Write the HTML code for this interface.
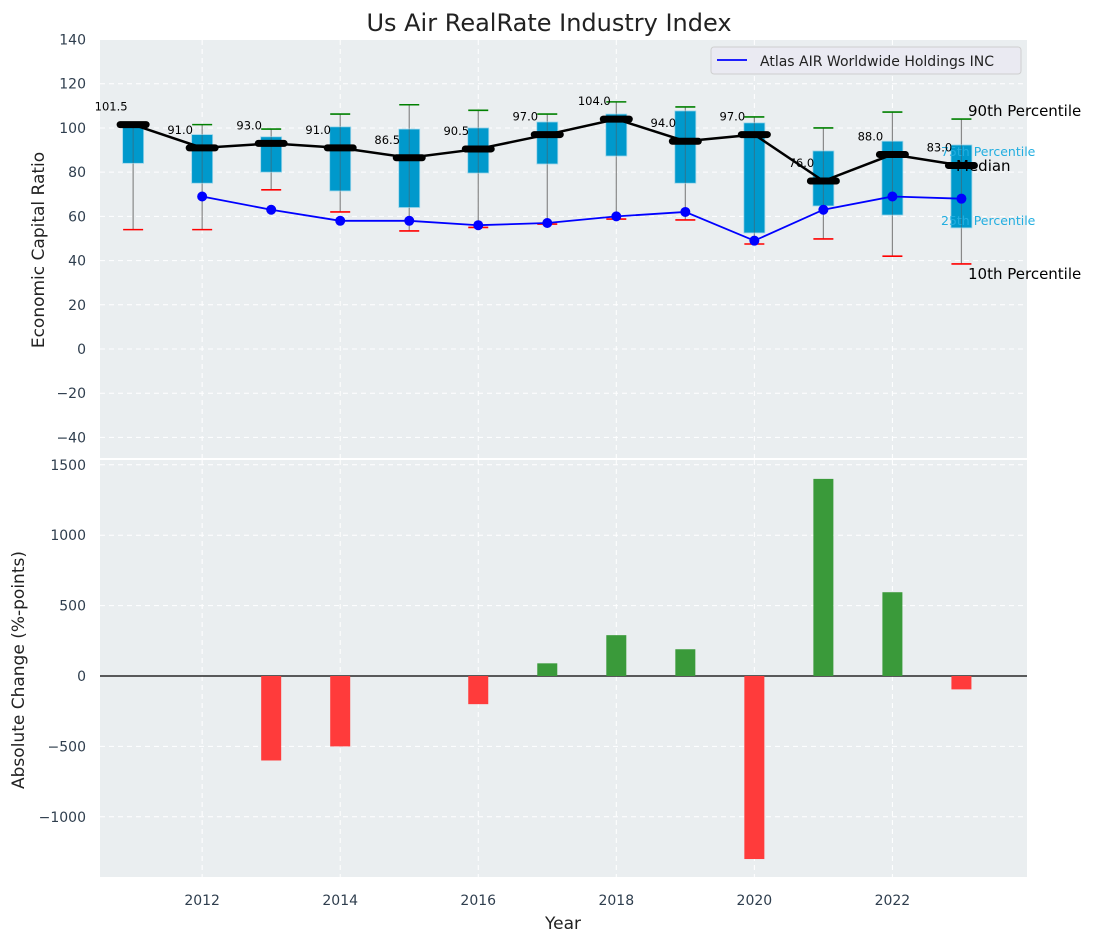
<!DOCTYPE html>
<html><head><meta charset="utf-8"><style>
body{margin:0;background:#fff;}
svg{display:block;font-family:"DejaVu Sans","Liberation Sans",sans-serif;}
</style></head><body>
<svg id="c" width="1103" height="942" xmlns="http://www.w3.org/2000/svg"></svg>
<script>
const years=[2011,2012,2013,2014,2015,2016,2017,2018,2019,2020,2021,2022,2023];
const medians=[101.5,91.0,93.0,91.0,86.5,90.5,97.0,104.0,94.0,97.0,76.0,88.0,83.0];
const q75=[100.5,97,96,100.5,99.5,100,102.7,106.3,107.7,102.3,89.6,94,92.3];
const q25=[84,75,80,71.5,64,79.6,83.7,87.3,75,52.5,64.7,60.6,54.8];
const p90=[101.5,101.5,99.5,106.3,110.5,108,106.3,111.8,109.5,105,100,107.2,104];
const p10=[54,54,72,62,53.4,55,56.5,58.8,58.4,47.5,49.8,42,38.5];
const company=[null,69,63,58,58,56,57,60,62,49,63,69,68];
const changes=[0,0,-600,-500,0,-200,90,290,190,-1300,1400,595,-95];
const topTicks=[-40,-20,0,20,40,60,80,100,120,140];
const botTicks=[-1000,-500,0,500,1000,1500];
const xTicks=[2012,2014,2016,2018,2020,2022];

const NS="http://www.w3.org/2000/svg";
const svg=document.getElementById('c');
function el(tag,attrs,parent){const e=document.createElementNS(NS,tag);for(const k in attrs)e.setAttribute(k,attrs[k]);(parent||svg).appendChild(e);return e;}
const L=100,R=1027,T1=40,B1=458,T2=460,B2=877;
const xs=v=>L+(v-2010.52)*(R-L)/(2023.95-2010.52);
const y1=v=>349-v*2.2105;
const y2=v=>676-v*0.1408;

let e=el('rect',{x:L,y:T1,width:R-L,height:B1-T1,fill:'#eaeef0'});

e=el('rect',{x:L,y:T2,width:R-L,height:B2-T2,fill:'#eaeef0'});


xTicks.forEach(t=>{
  el('line',{x1:xs(t),x2:xs(t),y1:T1,y2:B1,stroke:'#fff','stroke-dasharray':'5,4','stroke-width':1});
  el('line',{x1:xs(t),x2:xs(t),y1:T2,y2:B2,stroke:'#fff','stroke-dasharray':'5,4','stroke-width':1});
  const t1=el('text',{x:xs(t),y:905,'font-size':14,fill:'#2f3e4e','text-anchor':'middle'});t1.textContent=t;
  
});
topTicks.forEach(t=>{
  el('line',{x1:L,x2:R,y1:y1(t),y2:y1(t),stroke:'#fff','stroke-dasharray':'5,4','stroke-width':1});
  const tx=el('text',{x:L-14,y:y1(t)+5,'font-size':14,fill:'#2f3e4e','text-anchor':'end'});tx.textContent=t<0?'\u2212'+(-t):t;
  
});
botTicks.forEach(t=>{
  el('line',{x1:L,x2:R,y1:y2(t),y2:y2(t),stroke:'#fff','stroke-dasharray':'5,4','stroke-width':1});
  const tx=el('text',{x:L-14,y:y2(t)+5,'font-size':14,fill:'#2f3e4e','text-anchor':'end'});tx.textContent=t<0?'\u2212'+(-t):t;
  
});

const lab=(txt,x,y,fs,col,name)=>{const t=el('text',{x:x,y:y,'font-size':fs,fill:col});t.textContent=txt;};

years.forEach((yr,i)=>{
  const x=xs(yr);
  const w=el('line',{x1:x,x2:x,y1:y1(p90[i]),y2:y1(p10[i]),stroke:'#888','stroke-width':1.2});
  
  const b=el('rect',{x:x-10.5,y:y1(q75[i]),width:21,height:y1(q25[i])-y1(q75[i]),fill:'#0099cc',stroke:'#9fd6ea','stroke-width':0.8});
  
  el('line',{x1:x,x2:x,y1:y1(q75[i]),y2:y1(q25[i]),stroke:'#555','stroke-width':1,'stroke-opacity':0.5});
  const g=el('line',{x1:x-10,x2:x+10,y1:y1(p90[i]),y2:y1(p90[i]),stroke:'#008000','stroke-width':1.6});
  
  const r=el('line',{x1:x-10,x2:x+10,y1:y1(p10[i]),y2:y1(p10[i]),stroke:'#ff0000','stroke-width':1.6});
  
});
lab('75th Percentile',941,156,12.5,'#22aee0','q75-label');
lab('25th Percentile',941,225,12.5,'#22aee0','q25-label');
const mp=el('polyline',{points:years.map((y,i)=>xs(y)+','+y1(medians[i])).join(' '),fill:'none',stroke:'#000','stroke-width':2.5});

years.forEach((yr,i)=>{
  const x=xs(yr),y=y1(medians[i]);
  const m=el('line',{x1:x-13,x2:x+13,y1:y,y2:y,stroke:'#000','stroke-width':7,'stroke-linecap':'round'});
  
  const t=el('text',{x:x-22,y:y-14,'font-size':11.5,fill:'#000','text-anchor':'middle'});t.textContent=medians[i].toFixed(1);
  
});
const pts=[];years.forEach((yr,i)=>{if(company[i]!==null)pts.push(xs(yr)+','+y1(company[i]));});
const cl=el('polyline',{points:pts.join(' '),fill:'none',stroke:'#0000ff','stroke-width':1.8});

years.forEach((yr,i)=>{if(company[i]===null)return;
  const c=el('circle',{cx:xs(yr),cy:y1(company[i]),r:5,fill:'#0000ff'});
  
});
lab('90th Percentile',968,116,15,'#000','p90-label');
lab('Median',956,171,15,'#000','median-label');
lab('10th Percentile',968,279,15,'#000','p10-label');

const lg=el('g',{});
el('rect',{x:711,y:47,width:310,height:27,rx:3,fill:'#eaeaf2',stroke:'#cfcfcf'},lg);
el('line',{x1:717,x2:747,y1:60,y2:60,stroke:'#0000ff','stroke-width':1.8},lg);
const lt=el('text',{x:760,y:66,'font-size':14,fill:'#222'},lg);lt.textContent='Atlas AIR Worldwide Holdings INC';

el('line',{x1:L,x2:R,y1:y2(0),y2:y2(0),stroke:'#000','stroke-width':1.2});
years.forEach((yr,i)=>{
  const v=changes[i];if(v===0)return;
  const x=xs(yr);const ya=y2(Math.max(v,0)),yb=y2(Math.min(v,0));
  const b=el('rect',{x:x-10,y:ya,width:20,height:yb-ya,fill:v>0?'#3a9a3a':'#ff3b3b'});
  
});

let t=el('text',{x:549,y:31,'font-size':24,fill:'#222','text-anchor':'middle'});t.textContent='Us Air RealRate Industry Index';

t=el('text',{x:563,y:929,'font-size':17,fill:'#222','text-anchor':'middle'});t.textContent='Year';

t=el('text',{x:0,y:0,'font-size':17,fill:'#222','text-anchor':'middle',transform:'translate(44,250) rotate(-90)'});t.textContent='Economic Capital Ratio';

t=el('text',{x:0,y:0,'font-size':17,fill:'#222','text-anchor':'middle',transform:'translate(24,670) rotate(-90)'});t.textContent='Absolute Change (%-points)';

</script>
</body></html>
